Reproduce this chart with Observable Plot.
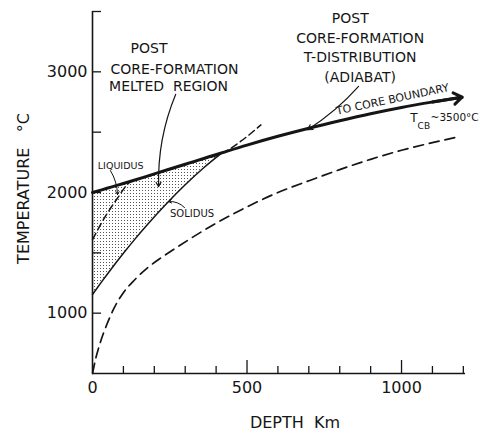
<!DOCTYPE html>
<html><head><meta charset="utf-8">
<script src="https://cdn.jsdelivr.net/npm/d3@7"></script>
<script src="https://cdn.jsdelivr.net/npm/@observablehq/plot@0.6"></script>
<style>body{margin:0;background:#fff;} svg{display:block}</style>
</head><body><div id="chart"></div>
<script>
// Post core-formation adiabat (thick line with arrow)
const adiabatDepth = [0, 30, 60, 100, 140, 180, 240, 300, 360, 420, 500, 600, 700, 800, 900, 1000, 1100, 1196];
const adiabatTemp  = [2000, 2022, 2045, 2075, 2106, 2138, 2186, 2234, 2282, 2330, 2393, 2466, 2533, 2595, 2653, 2705, 2750, 2790];
// Solidus (on the first depths of the adiabat grid, up to where it meets the adiabat)
const solidusTemp  = [1155, 1261, 1364, 1496, 1622, 1741, 1909, 2064, 2205, 2330];
// Liquidus (dashed)
const liquidusDepth = [0, 40, 80, 120, 180, 240, 300, 360, 420, 480, 545];
const liquidusTemp  = [1610, 1795, 1950, 2083, 2133, 2181, 2229, 2277, 2325, 2425, 2560];
// Lower dashed temperature profile
const geoDepth = [0, 10, 25, 46, 71, 100, 136, 176, 219, 265, 312, 376, 452, 511, 600, 700, 800, 900, 1000, 1100, 1175];
const geoTemp  = [500, 620, 755, 904, 1048, 1170, 1275, 1371, 1454, 1532, 1610, 1710, 1818, 1895, 2000, 2097, 2190, 2275, 2350, 2413, 2456];
// Axis ticks
const xLabelTicks = [0, 500, 1000];
const xMajorTicks = [500, 1000];
const xMinorTicks = [100, 200, 300, 400, 600, 700, 800, 900, 1100, 1200];
const yLabelTicks = [1000, 2000, 3000];
const yTicks = [1000, 1500, 2000, 2500, 3000, 3500];

const meltIdx = solidusTemp.map((_, i) => i);
const last = adiabatDepth.length - 1;
const ink = "#151515";

const plot = Plot.plot({
  width: 479, height: 431,
  marginLeft: 92, marginRight: 14, marginTop: 11, marginBottom: 58,
  style: {fontFamily: "'DejaVu Sans', sans-serif", color: ink, background: "#fff", overflow: "visible"},
  x: {domain: [0, 1207]},
  y: {domain: [500, 3500]},
  marks: [
    // melted region (stippled)
    Plot.areaY(meltIdx, {x: i => adiabatDepth[i], y1: i => solidusTemp[i], y2: i => adiabatTemp[i], fill: "url(#dots)", curve: "monotone-x"}),
    // lower dashed profile
    Plot.line(geoDepth, {x: d => d, y: (d, i) => geoTemp[i], stroke: ink, strokeWidth: 1.7, strokeDasharray: "10,6", curve: "monotone-x"}),
    // liquidus
    Plot.line(liquidusDepth, {x: d => d, y: (d, i) => liquidusTemp[i], stroke: ink, strokeWidth: 1.5, strokeDasharray: "7,4", curve: "monotone-x"}),
    // solidus
    Plot.line(meltIdx, {x: i => adiabatDepth[i], y: i => solidusTemp[i], stroke: ink, strokeWidth: 1.5, curve: "monotone-x"}),
    // adiabat
    Plot.line(adiabatDepth, {x: d => d, y: (d, i) => adiabatTemp[i], stroke: ink, strokeWidth: 3, strokeLinecap: "round", curve: "monotone-x"}),
    Plot.arrow([last], {x1: i => adiabatDepth[i - 1], y1: i => adiabatTemp[i - 1], x2: i => adiabatDepth[i], y2: i => adiabatTemp[i], stroke: ink, strokeWidth: 3, headLength: 14, headAngle: 70}),
    // axis lines
    Plot.ruleX([0], {stroke: ink, strokeWidth: 1.6}),
    Plot.ruleY([500], {stroke: ink, strokeWidth: 1.6}),
    // ticks (inward)
    Plot.axisX({ticks: xMinorTicks, tickSize: -7, tickFormat: () => "", label: null, strokeWidth: 1.3}),
    Plot.axisX({ticks: xMajorTicks, tickSize: -13, tickFormat: () => "", label: null, strokeWidth: 1.3}),
    Plot.axisY({ticks: yTicks, tickSize: -9, tickFormat: () => "", label: null, strokeWidth: 1.3}),
    // tick labels
    Plot.axisX({ticks: xLabelTicks, tickSize: 0, tickPadding: 8, fontSize: 16, label: null, tickFormat: d => String(d)}),
    Plot.axisY({ticks: yLabelTicks, tickSize: 0, tickPadding: 5, fontSize: 16, label: null, tickFormat: d => String(d)}),
    // axis titles
    Plot.text(["DEPTH  Km"], {frameAnchor: "bottom", textAnchor: "middle", lineAnchor: "middle", dx: 16, dy: 49.5, fontSize: 16, fill: ink}),
    Plot.text(["TEMPERATURE   °C"], {frameAnchor: "left", textAnchor: "middle", lineAnchor: "middle", dx: -69, dy: -4, rotate: -90, fontSize: 16, fill: ink}),
    // melted region annotation
    Plot.text(["POST"], {x: 183, y: 3195, fontSize: 14, fill: ink}),
    Plot.text(["CORE-FORMATION"], {x: 265, y: 3020, fontSize: 14, fill: ink}),
    Plot.text(["MELTED  REGION"], {x: 246, y: 2879, fontSize: 14, fill: ink}),
    Plot.arrow([0], {x1: 269, y1: 2813, x2: 214, y2: 2049, bend: -12, stroke: ink, strokeWidth: 1.2, headLength: 6}),
    // adiabat annotation
    Plot.text(["POST"], {x: 834, y: 3439, fontSize: 14, fill: ink}),
    Plot.text(["CORE-FORMATION\nT-DISTRIBUTION\n(ADIABAT)"], {x: 866, y: 3128, fontSize: 14, lineHeight: 1.36, fill: ink}),
    Plot.arrow([0], {x1: 861, y1: 2879, x2: 696, y2: 2520, bend: 8, stroke: ink, strokeWidth: 1.2, headLength: 7}),
    Plot.text(["TO CORE BOUNDARY"], {x: 971, y: 2772, rotate: -12, fontSize: 11, fill: ink}),
    Plot.text(["T"], {x: 1052, y: 2618, textAnchor: "end", fontSize: 12, fill: ink}),
    Plot.text(["CB"], {x: 1052, y: 2547, textAnchor: "start", fontSize: 9, fill: ink}),
    Plot.text(["~3500°C"], {x: 1094, y: 2618, textAnchor: "start", fontSize: 10.5, fill: ink}),
    // liquidus / solidus labels
    Plot.text(["LIQUIDUS"], {x: 91, y: 2224, fontSize: 9.5, fill: ink}),
    Plot.arrow([0], {x1: 58, y1: 2182, x2: 81, y2: 1983, bend: 15, stroke: ink, strokeWidth: 1, headLength: 5}),
    Plot.text(["SOLIDUS"], {x: 322, y: 1825, fontSize: 10, fill: ink}),
    Plot.arrow([0], {x1: 298, y1: 1875, x2: 246, y2: 1925, bend: -25, stroke: ink, strokeWidth: 1, headLength: 5})
  ]
});

const svg = d3.select(plot);
const pat = svg.insert("defs", ":first-child").append("pattern")
  .attr("id", "dots").attr("patternUnits", "userSpaceOnUse")
  .attr("width", 3).attr("height", 3);
pat.append("rect").attr("x", 1).attr("y", 1).attr("width", 1).attr("height", 1).attr("fill", "#555");
document.getElementById("chart").appendChild(plot);
</script>
</body></html>
